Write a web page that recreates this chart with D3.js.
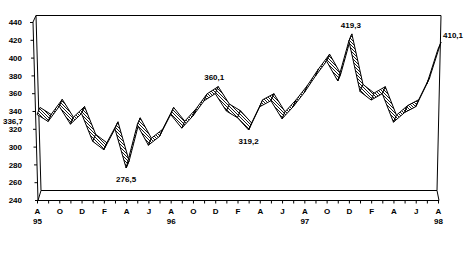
<!DOCTYPE html>
<html>
<head>
<meta charset="utf-8">
<script src="https://cdn.jsdelivr.net/npm/d3@7"></script>
<style>
  html, body { margin: 0; padding: 0; background: #fff; }
  svg { display: block; }
  text { font-family: "Liberation Sans", Arial, sans-serif; font-size: 8px; font-weight: bold; fill: #000; }
</style>
</head>
<body>
<svg id="chart" width="472" height="256"></svg>
<script>
// ---- data ----
const months = ["A","S","O","N","D","J","F","M","A","M","J","J",
                "A","S","O","N","D","J","F","M","A","M","J","J",
                "A","S","O","N","D","J","F","M","A","M","J","J","A"];
const years = {0: "95", 12: "96", 24: "97", 36: "98"};
const values = [336.7, 328.8, 345.8, 325.8, 337.7, 306.5, 297.0, 320.5, 276.5, 325.0, 302.1, 312.0,
                336.6, 321.3, 335.0, 352.0, 360.1, 340.5, 333.0, 319.2, 345.4, 352.1, 331.8, 345.4,
                361.3, 379.9, 396.6, 374.3, 419.3, 362.5, 352.9, 360.0, 328.0, 338.8, 345.4, 371.0, 410.1];
const yTicks = [240, 260, 280, 300, 320, 340, 360, 380, 400, 420, 440];
const labelIdx = [0, 8, 16, 19, 28, 36];

// ---- layout ----
const svg = d3.select("#chart");
const idx = d3.range(months.length);
const x = d3.scalePoint().domain(idx).range([37, 438]);
const y = d3.scaleLinear().domain([240, 440]).range([200.5, 22.5]);
const depth = {dx: 3, dy: -7};           // 3D ribbon depth
const slant = yy => 33 + (yy - 22) / 178 * 5; // y-axis slant

const defs = svg.append("defs");
const pat = defs.append("pattern").attr("id", "hatch")
  .attr("patternUnits", "userSpaceOnUse").attr("width", 3).attr("height", 3);
pat.append("rect").attr("width", 3).attr("height", 3).attr("fill", "#fff");
pat.append("path").attr("d", "M-1,-1L4,4M-1,2L1,4M2,-1L4,1")
  .attr("stroke", "#000").attr("stroke-width", 0.9);

// frame (3D walls)
const line = d3.line();
const fr = svg.append("g").attr("fill", "none").attr("stroke", "#000").attr("stroke-width", 1);
const x0 = x(0), x1 = x(36);
fr.append("path").attr("d", line([[x0 - 1, 15.5], [x1 + 3, 15.5], [x1 - 1, 190.5], [x0 + 4, 190.5], [x0 - 1, 15.5]]));
fr.append("path").attr("d", line([[slant(22), 22], [x0 - 1, 15.5]]));
fr.append("path").attr("d", line([[slant(200.5), 200.5], [x0 + 4, 190.5]]));
fr.append("path").attr("d", line([[x1 + 1, 200.5], [x1 - 1, 190.5]]));

// y axis
const ya = svg.append("g").call(d3.axisLeft(y).tickValues(yTicks).tickSize(3).tickPadding(9));
ya.select(".domain").remove();
ya.selectAll(".tick").attr("transform", d => `translate(${slant(y(d))},${y(d)})`);
ya.selectAll(".tick line").attr("stroke", "#000");
ya.selectAll(".tick text").attr("x", d => 22 - slant(y(d))).attr("dy", "0.33em").style("font-size", "8px");
ya.attr("font-family", null).attr("font-size", null);
svg.append("path").attr("fill", "none").attr("stroke", "#000")
  .attr("d", line([[slant(22), 22], [slant(200.5), 200.5]]));

// x axis
const xa = svg.append("g").attr("transform", "translate(0,200.5)")
  .call(d3.axisBottom(x).tickSize(3).tickSizeOuter(0).tickPadding(5).tickFormat(i => i % 2 === 0 ? months[i] : ""));
xa.attr("font-family", null).attr("font-size", null);
xa.select(".domain").attr("d", `M${slant(200.5)},0H${x1 + 1}`).attr("stroke", "#000");
xa.selectAll(".tick line").attr("stroke", "#000");
xa.selectAll(".tick text").style("font-size", "8px");
xa.selectAll(".tick").filter(i => years[i] !== undefined).append("text")
  .attr("y", 23.5).attr("text-anchor", "middle").text(i => years[i]);

// ribbon
const front = i => [x(i), y(values[i])];
const back = i => [x(i) + depth.dx, y(values[i]) + depth.dy];
svg.append("g").selectAll("path").data(d3.range(values.length - 1)).join("path")
  .attr("d", i => line([front(i), front(i + 1), back(i + 1), back(i)]) + "Z")
  .attr("fill", "url(#hatch)").attr("stroke", "#000").attr("stroke-width", 1).attr("stroke-linejoin", "round");

// data labels
const fmt = v => d3.format(".1f")(v).replace(".", ",");
const place = {0: [-14, 10, "end"], 8: [0, 14, "middle"], 16: [-1, -14, "middle"],
               19: [0, 14, "middle"], 28: [2, -13, "middle"], 36: [5, -11, "start"]};
svg.append("g").selectAll("text").data(labelIdx).join("text")
  .attr("x", i => x(i) + place[i][0])
  .attr("y", i => y(values[i]) + place[i][1])
  .attr("text-anchor", i => place[i][2])
  .text(i => fmt(values[i]));
</script>
</body>
</html>
